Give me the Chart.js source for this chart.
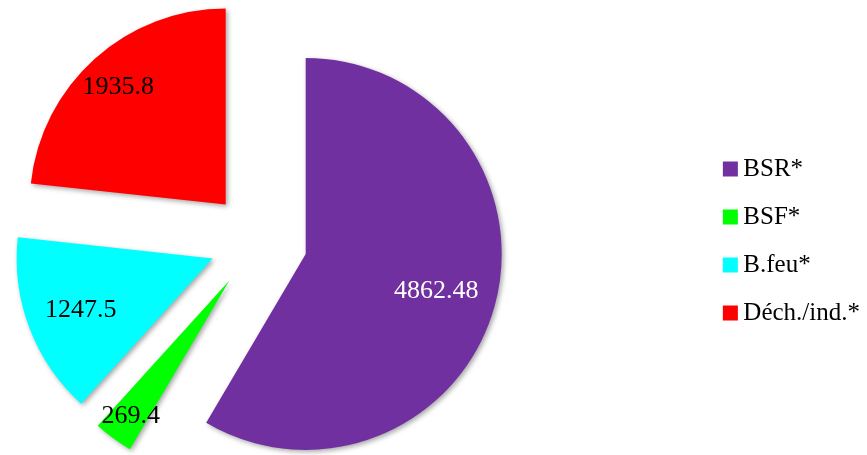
<!DOCTYPE html>
<html>
<head>
<meta charset="utf-8">
<script src="https://cdn.jsdelivr.net/npm/chart.js@4.4.1/dist/chart.umd.min.js"></script>
<style>
  html, body { margin: 0; padding: 0; background: #fff; overflow: hidden; }
  /* canvas is wider than the window on the left so the pie sits left of centre */
  #wrap { position: absolute; left: -190px; top: 0; width: 1060px; height: 455px; }
</style>
</head>
<body>
<div id="wrap"><canvas id="pie"></canvas></div>
<script>
const categories = ['BSR*', 'BSF*', 'B.feu*', 'Déch./ind.*'];
const values = [4862.48, 269.4, 1247.5, 1935.8];
const valueLabels = ['4862.48', '269.4', '1247.5', '1935.8'];

const sliceColors = ['#7030a0', '#00ff00', '#00ffff', '#ff0000'];
const labelColors = ['#ffffff', '#000000', '#000000', '#000000'];
const labelRadius = [0.69, 0.85, 0.72, 0.82];
const explode = 49;
const labelSize = 26;
const serif = '"Liberation Serif", "Times New Roman", serif';

// pull every slice out along its middle angle (chart.js own offset also grows the radius)
const explodeSlices = {
  id: 'explodeSlices',
  afterDatasetsUpdate(chart) {
    chart.getDatasetMeta(0).data.forEach(arc => {
      const mid = (arc.startAngle + arc.endAngle) / 2;
      arc.x += Math.cos(mid) * explode;
      arc.y += Math.sin(mid) * explode;
    });
  },
  beforeDatasetsDraw(chart) {
    const ctx = chart.ctx;
    ctx.save();
    ctx.shadowColor = 'rgba(0, 0, 0, 0.35)';
    ctx.shadowBlur = 5;
    ctx.shadowOffsetX = 2;
    ctx.shadowOffsetY = 2;
  },
  afterDatasetsDraw(chart) {
    const ctx = chart.ctx;
    ctx.restore();

    ctx.save();
    ctx.font = labelSize + 'px ' + serif;
    ctx.textAlign = 'center';
    ctx.textBaseline = 'alphabetic';
    chart.getDatasetMeta(0).data.forEach((arc, i) => {
      const mid = (arc.startAngle + arc.endAngle) / 2;
      const r = arc.outerRadius * labelRadius[i];
      ctx.fillStyle = labelColors[i];
      ctx.fillText(valueLabels[i], arc.x + Math.cos(mid) * r,
        arc.y + Math.sin(mid) * r + labelSize * 0.34);
    });
    ctx.restore();
  }
};

new Chart(document.getElementById('pie'), {
  type: 'pie',
  data: {
    labels: categories,
    datasets: [{
      data: values,
      backgroundColor: sliceColors,
      borderWidth: 0
    }]
  },
  options: {
    responsive: true,
    maintainAspectRatio: false,
    animation: false,
    events: [],
    radius: 196,
    layout: { padding: { top: 27, right: 0, bottom: 0, left: 0 } },
    plugins: {
      tooltip: { enabled: false },
      legend: {
        position: 'right',
        labels: {
          usePointStyle: true,
          pointStyle: 'rect',
          boxWidth: 1,
          boxHeight: 15,
          padding: 23,
          color: '#000',
          font: { family: serif, size: 25 }
        }
      }
    }
  },
  plugins: [explodeSlices]
});
</script>
</body>
</html>
